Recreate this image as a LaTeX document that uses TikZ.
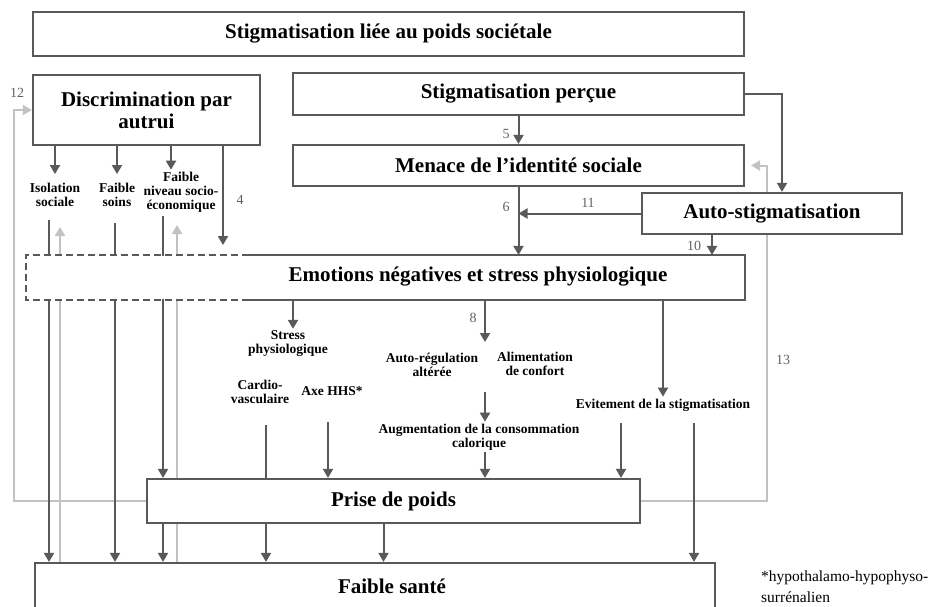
\documentclass[tikz,border=0pt]{standalone}
\usepackage{fontspec}
\setmainfont{Liberation Serif}
\usetikzlibrary{arrows.meta,positioning}
\pgfdeclarelayer{background}
\pgfsetlayers{background,main}

\definecolor{boxgray}{gray}{0.35}
\definecolor{fbgray}{gray}{0.76}
\definecolor{numgray}{gray}{0.38}

\newcommand\boxfont{\fontsize{21}{22}\selectfont\bfseries}
\newcommand\lblfont{\fontsize{13.5}{14}\selectfont\bfseries}
\newcommand\numfont{\fontsize{14}{14}\selectfont}
\newcommand\notefont{\fontsize{15.5}{21}\selectfont}

\tikzset{
  frame/.style={draw=boxgray, line width=2.2pt},
  stigbox/.style={frame, fill=white, font=\boxfont, align=center, inner sep=0pt},
  lbl/.style={font=\lblfont, align=center, inner sep=2pt},
  num/.style={font=\numfont, text=numgray, inner sep=1pt},
  arr/.style={draw=boxgray, line width=2pt, -{Triangle[width=10pt,length=9pt]}},
  link/.style={draw=boxgray, line width=2pt},
  fb/.style={draw=fbgray, line width=2pt, -{Triangle[width=10pt,length=9pt]}},
}

\begin{document}
\begin{tikzpicture}[x=1pt,y=-1pt]
    \useasboundingbox (0,0) rectangle (937,607);

    % main boxes
    \node[stigbox, minimum width=711pt, minimum height=44pt] (societe) at (388.5,34) {Stigmatisation liée au poids sociétale};
    \node[stigbox, minimum width=227pt, minimum height=70pt] (discri) at (146.5,110) {Discrimination par\\autrui};
    \node[stigbox, minimum width=451pt, minimum height=42pt] (percue) at (518.5,94) {Stigmatisation perçue};
    \node[stigbox, minimum width=451pt, minimum height=41pt] (menace) at (518.5,165.5) {Menace de l’identité sociale};
    \node[stigbox, minimum width=260pt, minimum height=41pt] (autostig) at (772,213.5) {Auto-stigmatisation};
    \node[stigbox, draw=none, minimum width=717pt, minimum height=43pt] (emo) at (385.5,277.5) {};
    \node[font=\boxfont, inner sep=0pt] (emotxt) at (478,277) {Emotions négatives et stress physiologique};
    \node[stigbox, minimum width=493pt, minimum height=44pt] (prise) at (393.5,501) {Prise de poids};
    \node[stigbox, minimum width=680pt, minimum height=50pt] (sante) at (375,588) {};
    \node[font=\boxfont, inner sep=0pt] (santetxt) at (392,586) {Faible santé};

    % emotions box: dashed on the left
    \coordinate (emosplit) at ([xshift=223pt]emo.north west);
    \draw[frame] (emosplit) -- (emo.north east) -- (emo.south east) -- (emosplit |- emo.south);
    \draw[frame, dash pattern=on 7pt off 4pt] (emosplit) -- (emo.north west) -- (emo.south west) -- (emosplit |- emo.south);

    % small labels
    \node[lbl] (isol) at (55,195) {Isolation\\sociale};
    \node[lbl] (soins) at (117,195) {Faible\\soins};
    \node[lbl] (socio) at (181,192) {Faible\\niveau socio-\\économique};
    \node[lbl] (stress) at (288,344) {Stress\\physiologique};
    \node[lbl] (cardio) at (260,392) {Cardio-\\vasculaire};
    \node[lbl] (hhs) at (332,391) {Axe HHS*};
    \node[lbl] (autoreg) at (432,365) {Auto-régulation\\altérée};
    \node[lbl] (confort) at (535,364) {Alimentation\\de confort};
    \node[lbl] (calor) at (479,437) {Augmentation de la consommation\\calorique};
    \node[lbl] (evit) at (663,405) {Evitement de la stigmatisation};
    \node[font=\notefont, align=left, anchor=west, inner sep=0pt] (note) at (761,587) {*hypothalamo-hypophyso-\\surrénalien};

    % path numbers
    \node[num] (n4) at (240,200) {4};
    \node[num] (n5) at (506,134) {5};
    \node[num] (n6) at (506,207) {6};
    \node[num] (n8) at (473,318) {8};
    \node[num] (n10) at (694,246) {10};
    \node[num] (n11) at (588,203) {11};
    \node[num] (n12) at (17,93) {12};
    \node[num] (n13) at (783,360) {13};

    % free ends
    \coordinate (isoup) at (60,227);
    \coordinate (socioup) at (177,225);
    \coordinate (isodown) at (49,220);
    \coordinate (soinsdown) at (115,223);
    \coordinate (sociodown) at (163,216);
    \coordinate (c4) at (223,245);
    \coordinate (cardiodown) at (266,425);
    \coordinate (hhsdown) at (328,422);
    \coordinate (col8) at (485,342);
    \coordinate (calin) at (485,392);
    \coordinate (evitl) at (621,423);
    \coordinate (evitr) at (694,423);

    % lines running behind the boxes
    \begin{pgfonlayer}{background}
      \draw[fb] (prise.west) -| ([xshift=-18pt]discri.west) -- (discri.west);
      \draw[fb] (prise.east) -| ([xshift=22pt]menace.east) -- ([xshift=6pt]menace.east);
      \draw[fb] (isoup |- sante.north) -- (isoup);
      \draw[fb] (socioup |- sante.north) -- (socioup);
      \draw[arr] (isodown) -- (isodown |- sante.north);
      \draw[arr] (soinsdown) -- (soinsdown |- sante.north);
      \draw[arr] (sociodown) -- (sociodown |- prise.north);
    \end{pgfonlayer}

    % stigma chain
    \draw[arr] (percue.east) -| ([xshift=10pt]autostig.north);
    \draw[arr] (percue.south) -- (menace.north);
    \draw[arr] (menace.south) -- (menace.south |- emo.north);
    \draw[arr] (autostig.west) -- (autostig.west -| menace.south);
    \draw[arr] ([xshift=-60pt]autostig.south) -- ([xshift=-60pt]autostig.south |- emo.north);

    % discrimination
    \draw[arr] (isol.north |- discri.south) -- ([yshift=7pt]isol.north);
    \draw[arr] (soins.north |- discri.south) -- ([yshift=7pt]soins.north);
    \draw[arr] ([xshift=-10pt]socio.north |- discri.south) -- ([xshift=-10pt]socio.north);
    \draw[arr] (c4 |- discri.south) -- (c4);

    % emotions and stress
    \draw[arr] ([xshift=5pt]stress.north |- emo.south) -- ([xshift=5pt]stress.north);
    \draw[link] (cardiodown) -- (cardiodown |- prise.north);
    \draw[arr] (hhsdown) -- (hhsdown |- prise.north);
    \draw[arr] (col8 |- emo.south) -- (col8);
    \draw[arr] (calin) -- (calin |- calor.north);
    \draw[arr] (calin |- calor.south) -- (calin |- prise.north);
    \draw[arr] (evit.north |- emo.south) -- (evit.north);
    \draw[arr] (evitl) -- (evitl |- prise.north);
    \draw[arr] (evitr) -- (evitr |- sante.north);

    % weight gain to health
    \draw[arr] (sociodown |- prise.south) -- (sociodown |- sante.north);
    \draw[arr] (cardiodown |- prise.south) -- (cardiodown |- sante.north);
    \draw[arr] ([xshift=-10pt]prise.south) -- ([xshift=-10pt]prise.south |- sante.north);
\end{tikzpicture}
\end{document}
